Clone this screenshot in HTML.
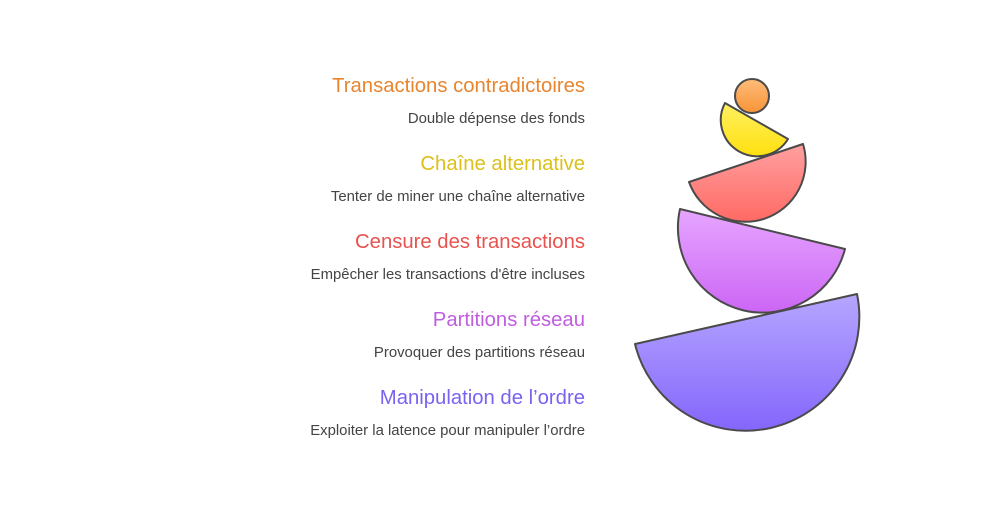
<!DOCTYPE html>
<html><head><meta charset="utf-8"><style>
html,body{margin:0;padding:0;background:#fff;}
body{width:1003px;height:517px;position:relative;overflow:hidden;font-family:"Liberation Sans",sans-serif;}
.t{position:absolute;right:418px;font-size:20.3px;white-space:nowrap;}
.d{position:absolute;right:418px;font-size:14.9px;color:#444;white-space:nowrap;}
svg{position:absolute;left:0;top:0;}
</style></head><body>
<div class="t" style="top:75px;color:#e8852f">Transactions contradictoires</div>
<div class="d" style="top:111px">Double dépense des fonds</div>
<div class="t" style="top:153px;color:#dcc01c">Chaîne alternative</div>
<div class="d" style="top:189px">Tenter de miner une chaîne alternative</div>
<div class="t" style="top:231px;color:#e8534f">Censure des transactions</div>
<div class="d" style="top:267px">Empêcher les transactions d'être incluses</div>
<div class="t" style="top:309px;color:#c05ee0">Partitions réseau</div>
<div class="d" style="top:345px">Provoquer des partitions réseau</div>
<div class="t" style="top:387px;color:#7a62f0">Manipulation de l’ordre</div>
<div class="d" style="top:423px">Exploiter la latence pour manipuler l’ordre</div>
<svg width="1003" height="517">
<defs>
<linearGradient id="gp" x1="0" y1="0" x2="0" y2="1"><stop offset="0" stop-color="#b6a6ff"/><stop offset="1" stop-color="#8466fb"/></linearGradient>
<linearGradient id="gm" x1="0" y1="0" x2="0" y2="1"><stop offset="0" stop-color="#e6a6ff"/><stop offset="1" stop-color="#cc66f5"/></linearGradient>
<linearGradient id="gr" x1="0" y1="0" x2="0" y2="1"><stop offset="0" stop-color="#ffa0a0"/><stop offset="1" stop-color="#ff6a64"/></linearGradient>
<linearGradient id="gy" x1="0" y1="0" x2="0" y2="1"><stop offset="0" stop-color="#fff060"/><stop offset="1" stop-color="#ffe010"/></linearGradient>
<linearGradient id="go" x1="0" y1="0" x2="0" y2="1"><stop offset="0" stop-color="#ffbc7a"/><stop offset="1" stop-color="#f79438"/></linearGradient>
</defs>
<g stroke="#4a4a4a" stroke-width="2" stroke-linejoin="round">
<path d="M635,344 L857,294 A113.8,113.8 0 0 1 635,344 Z" fill="url(#gp)"/>
<path d="M680,209 L845,249 A84.9,84.9 0 0 1 680,209 Z" fill="url(#gm)"/>
<path d="M689,182 L803,144 A60.1,60.1 0 0 1 689,182 Z" fill="url(#gr)"/>
<path d="M725,103 L788,139 A36.3,36.3 0 0 1 725,103 Z" fill="url(#gy)"/>
<circle cx="752" cy="96" r="17" fill="url(#go)"/>
</g>
</svg>
</body></html>
